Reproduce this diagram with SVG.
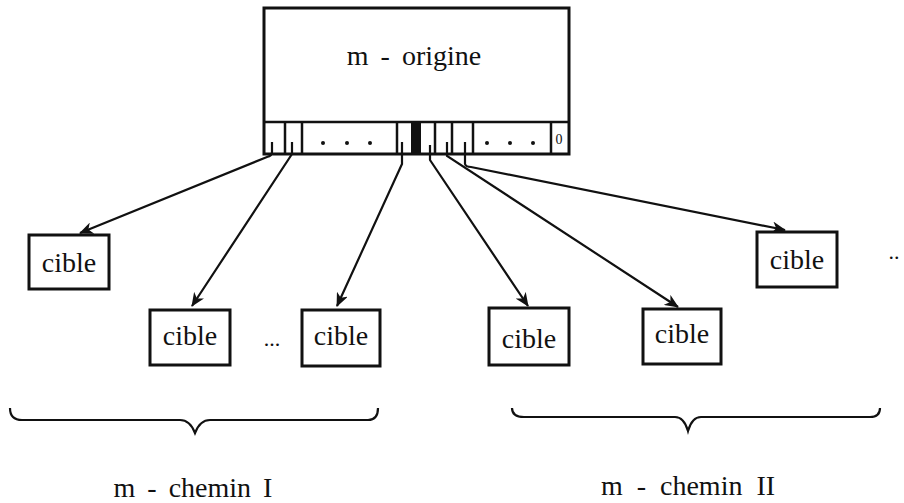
<svg xmlns="http://www.w3.org/2000/svg" width="904" height="503" viewBox="0 0 904 503">
<defs>
<style>
.box{fill:#fff;stroke:#111;stroke-width:3}
.ln{fill:none;stroke:#111;stroke-width:2.2}
.thin{fill:none;stroke:#111;stroke-width:2.5}
.t{font-family:"Liberation Serif","Times New Roman",serif;fill:#111;text-anchor:middle}
.dot{fill:#111}
</style>
<marker id="ah" viewBox="0 0 14 12" refX="13" refY="6" markerWidth="14" markerHeight="12" markerUnits="userSpaceOnUse" orient="auto">
<path d="M0,0 L14,6 L0,12 L4,6 Z" fill="#111"/>
</marker>
</defs>
<rect width="904" height="503" fill="#fff"/>
<g id="origine">
<rect class="box" x="264" y="8" width="305" height="146"/>
<line class="thin" x1="264" y1="122" x2="569" y2="122"/>
<line class="thin" x1="285" y1="122" x2="285" y2="154"/>
<line class="thin" x1="302" y1="122" x2="302" y2="154"/>
<line class="thin" x1="397" y1="122" x2="397" y2="154"/>
<rect x="411" y="122" width="10" height="32" fill="#111"/>
<line class="thin" x1="435" y1="122" x2="435" y2="154"/>
<line class="thin" x1="452" y1="122" x2="452" y2="154"/>
<line class="thin" x1="473" y1="122" x2="473" y2="154"/>
<line class="thin" x1="551" y1="122" x2="551" y2="154"/>
<circle class="dot" cx="323" cy="143" r="2"/>
<circle class="dot" cx="347" cy="143" r="2"/>
<circle class="dot" cx="370" cy="143" r="2"/>
<circle class="dot" cx="487" cy="143" r="2"/>
<circle class="dot" cx="510" cy="143" r="2"/>
<circle class="dot" cx="533" cy="143" r="2"/>
<text class="t" x="559" y="144" font-size="14">0</text>
<text class="t" x="414" y="65" font-size="28" word-spacing="5">m - origine</text>
</g>
<g id="connectors">
<path class="ln" d="M272,142 L272,152 Q272,156 267,157 L80,233" marker-end="url(#ah)"/>
<path class="ln" d="M292,142 L292,154 L192,306" marker-end="url(#ah)"/>
<path class="ln" d="M402,142 L402,164 L337,306" marker-end="url(#ah)"/>
<path class="ln" d="M430,145 L430,160 L528,306" marker-end="url(#ah)"/>
<path class="ln" d="M447,142 L447,156 L678,307" marker-end="url(#ah)"/>
<path class="ln" d="M465,142 L465,164 Q466,167 471,167 L785,230" marker-end="url(#ah)"/>
</g>
<g id="cible1"><rect class="box" x="29" y="235" width="80" height="54"/><text class="t" x="69" y="272" font-size="28">cible</text></g>
<g id="cible2"><rect class="box" x="150" y="310" width="80" height="55"/><text class="t" x="190" y="345" font-size="28">cible</text></g>
<g id="cible3"><rect class="box" x="302" y="310" width="78" height="56"/><text class="t" x="341" y="345" font-size="28">cible</text></g>
<g id="cible4"><rect class="box" x="489" y="308" width="80" height="57"/><text class="t" x="529" y="348" font-size="28">cible</text></g>
<g id="cible5"><rect class="box" x="643" y="309" width="78" height="55"/><text class="t" x="682" y="343" font-size="28">cible</text></g>
<g id="cible6"><rect class="box" x="757" y="232" width="80" height="55"/><text class="t" x="797" y="269" font-size="28">cible</text></g>
<text class="t" x="272" y="346" font-size="22">...</text>
<text class="t" x="894" y="259" font-size="22">..</text>
<g id="brace1"><path class="ln" d="M10,408 Q10,420 22,420 L180,420 Q190,420 195,433 Q200,420 210,420 L368,420 Q378,420 378,408"/></g>
<g id="brace2"><path class="ln" d="M512,408 Q512,417 524,417 L675,417 Q684,417 688,431 Q692,417 701,417 L870,417 Q880,417 880,408"/></g>
<text class="t" x="193" y="497" font-size="28" word-spacing="5">m - chemin I</text>
<text class="t" x="688" y="495" font-size="28" word-spacing="7">m - chemin II</text>
</svg>
